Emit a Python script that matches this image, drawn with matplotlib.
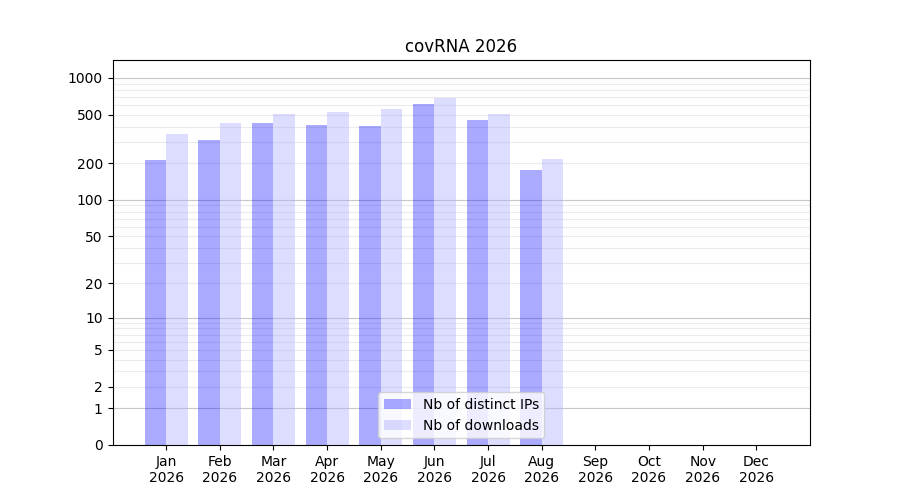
"""Monthly download stats bar chart, log(1+x) scale."""
import matplotlib

matplotlib.use("Agg")
import matplotlib.pyplot as plt
import numpy as np

MONTHS = ["Jan", "Feb", "Mar", "Apr", "May", "Jun", "Jul", "Aug", "Sep", "Oct", "Nov", "Dec"]
YEAR = 2026
DISTINCT_IPS = [213, 311, 428, 413, 405, 614, 453, 176]
DOWNLOADS = [349, 428, 508, 528, 558, 691, 508, 217]
TICK_VALUES = [0, 1, 2, 5, 10, 20, 50, 100, 200, 500, 1000]


def main():
    fig, ax = plt.subplots(figsize=(9, 5), dpi=100)
    x = np.arange(1, len(MONTHS) + 1)

    # grid lines: decades darker, intermediates lighter
    for dec in [1, 10, 100]:
        for m in range(2, 10):
            ax.axhline(np.log10(1 + m * dec), color="#ebebeb", lw=0.8, zorder=0)
    for dec in [1, 10, 100, 1000]:
        ax.axhline(np.log10(1 + dec), color="#c8c8c8", lw=0.8, zorder=0)

    n = len(DISTINCT_IPS)
    ax.bar(x[:n] - 0.2, np.log10(1 + np.array(DISTINCT_IPS)), width=0.4,
           color="blue", alpha=1 / 3, label="Nb of distinct IPs", zorder=2)
    ax.bar(x[:n] + 0.2, np.log10(1 + np.array(DOWNLOADS)), width=0.4,
           color="#aaaaff", alpha=0.4, label="Nb of downloads", zorder=2)

    ax.set_xlim(0, 13)
    ax.set_ylim(0, np.log10(1 + 1000) * 1.049)
    ax.set_xticks(x)
    ax.set_xticklabels([f"{m}\n{YEAR}" for m in MONTHS])
    ax.set_yticks(np.log10(1 + np.array(TICK_VALUES)))
    ax.set_yticklabels([str(v) for v in TICK_VALUES])
    ax.set_title(f"covRNA {YEAR}")
    ax.legend(loc="lower center")

    fig.savefig("out.png", dpi=100)
    plt.close(fig)


if __name__ == "__main__":
    main()
